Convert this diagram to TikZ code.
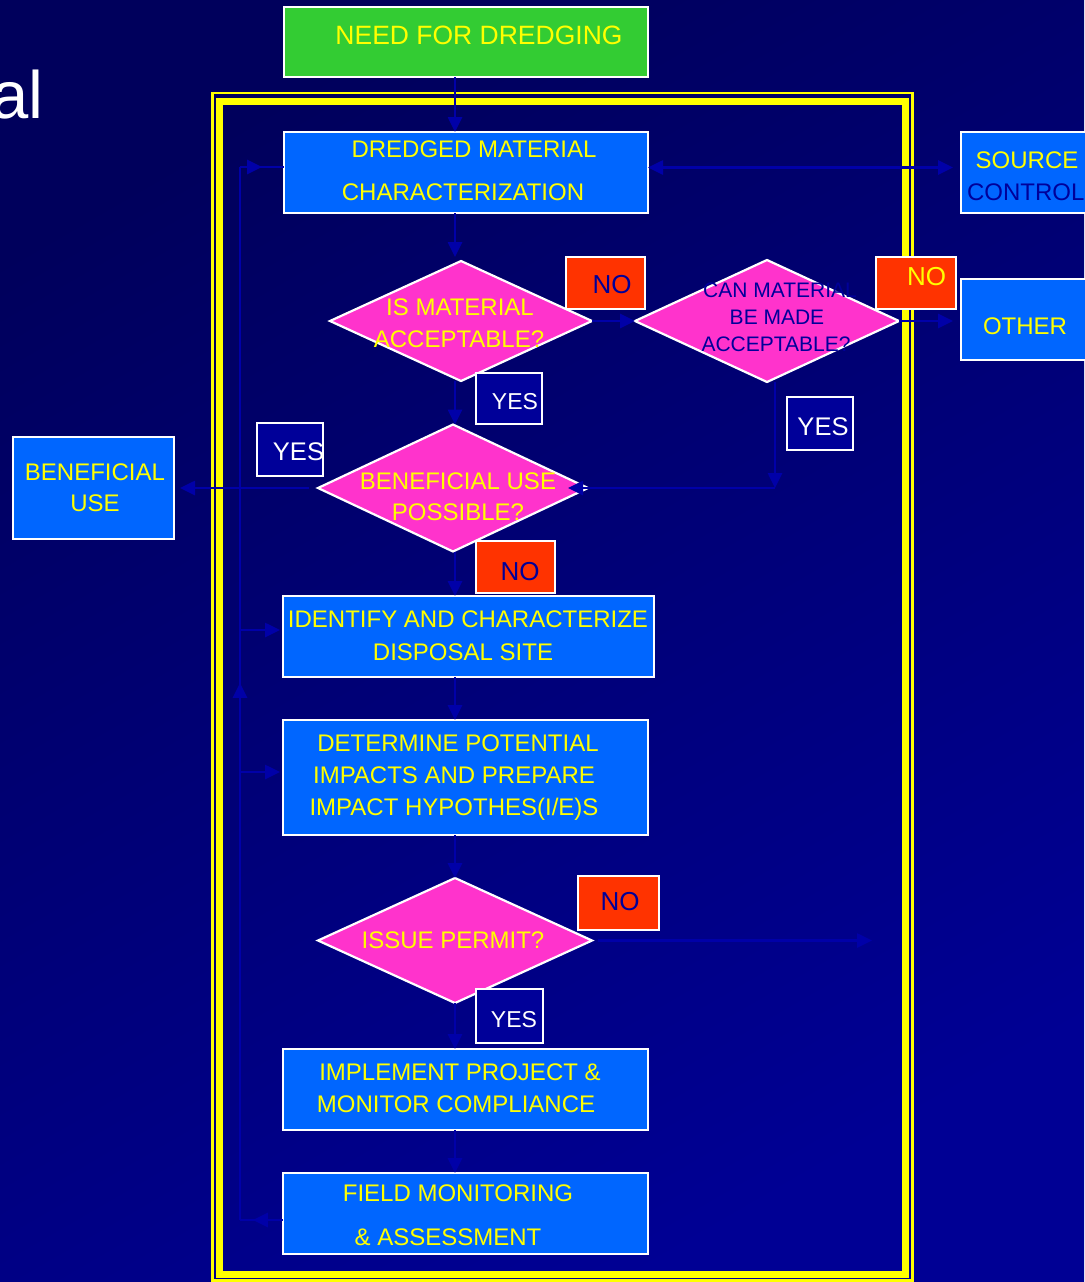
\documentclass[tikz,border=0pt]{standalone}
\usepackage{fontspec}
\setmainfont{Liberation Sans}
\usetikzlibrary{shapes.geometric,arrows.meta,decorations.markings,calc}
\definecolor{bgtop}{RGB}{0,0,92}
\definecolor{bgbot}{RGB}{0,0,148}
\definecolor{grn}{RGB}{51,204,51}
\definecolor{bbox}{RGB}{0,102,255}
\definecolor{pnk}{RGB}{255,51,204}
\definecolor{nored}{RGB}{255,51,0}
\definecolor{yesblue}{RGB}{0,0,153}
\definecolor{ylw}{RGB}{255,255,0}
\definecolor{dtext}{RGB}{0,0,153}
\definecolor{conn}{RGB}{0,0,168}
\begin{document}
\begin{tikzpicture}[x=1pt,y=-1pt,
  shp/.style={draw=white, line width=2.2pt, inner sep=0pt, outer sep=0pt},
  bx/.style={shp, rectangle, fill=bbox},
  nobox/.style={shp, rectangle, fill=nored},
  yesbox/.style={shp, rectangle, fill=yesblue},
  dia/.style={shp, diamond, fill=pnk, aspect=1},
  tA/.style={inner sep=0pt, outer sep=0pt, text depth=0pt, text=ylw, font=\fontsize{24}{24}\selectfont, text height=17.2pt},
  tB/.style={tA, font=\fontsize{21}{21}\selectfont, text height=15pt, text=dtext},
  tN/.style={tA, font=\fontsize{26}{26}\selectfont, text height=18.6pt},
  tY/.style={tA, font=\fontsize{23}{23}\selectfont, text height=16.5pt, text=white},
  ln/.style={draw=conn, color=conn, line width=2.6pt},
  arr/.style={ln, -{Triangle[length=15pt,width=14pt]}},
  midarr/.style={ln, postaction={decorate, decoration={markings, mark=at position #1 with {\arrow{Triangle[length=15pt,width=14pt]}}}}}
]
\shade[top color=bgtop, bottom color=bgbot, shading angle=30] (0,0) rectangle (1084,1282);
\useasboundingbox (0,0) rectangle (1084,1282);

% title fragment
\node[inner sep=0pt, anchor=base east, text=white, font=\fontsize{67}{67}\selectfont] (title) at (44,118) {al};

% frame
\draw[ylw, line width=2.5pt] (212.5,93) rectangle (912.5,1280.5);
\draw[ylw, line width=7pt] (219.5,101) rectangle (905.5,1274);

% boxes
\node[shp, rectangle, fill=grn, minimum width=364pt, minimum height=70pt] (need) at (466,42) {};
\node[bx, minimum width=364pt, minimum height=81pt] (dmc) at (466,172.5) {};
\node[bx, minimum width=140pt, minimum height=81pt] (source) at (1031,172.5) {};
\node[bx, minimum width=140pt, minimum height=81pt] (other) at (1031,319.5) {};
\node[dia, minimum width=262pt, minimum height=120pt] (d1) at (461,321) {};
\node[dia, minimum width=264pt, minimum height=122pt] (d2) at (767,321) {};
\node[dia, minimum width=270pt, minimum height=127pt] (d3) at (453,488) {};
\node[dia, minimum width=274pt, minimum height=125pt] (d4) at (455,940.5) {};
\node[nobox, minimum width=79pt, minimum height=52pt] (no1) at (605.5,283) {};
\node[nobox, minimum width=80pt, minimum height=52pt] (no2) at (916,283) {};
\node[yesbox, minimum width=66pt, minimum height=51pt] (yes1) at (509,398.5) {};
\node[yesbox, minimum width=66pt, minimum height=53pt] (yes2) at (820,423.5) {};
\node[yesbox, minimum width=66pt, minimum height=53pt] (yes3) at (290,449.5) {};
\node[nobox, minimum width=79pt, minimum height=52pt] (no3) at (515.5,567) {};
\node[bx, minimum width=161pt, minimum height=102pt] (ben) at (93.5,488) {};
\node[bx, minimum width=371pt, minimum height=81pt] (ident) at (468.5,636.5) {};
\node[bx, minimum width=365pt, minimum height=115pt] (determ) at (465.5,777.5) {};
\node[nobox, minimum width=81pt, minimum height=54pt] (no4) at (618.5,903) {};
\node[yesbox, minimum width=67pt, minimum height=54pt] (yes4) at (509.5,1016) {};
\node[bx, minimum width=365pt, minimum height=81pt] (impl) at (465.5,1089.5) {};
\node[bx, minimum width=365pt, minimum height=81pt] (field) at (465.5,1213.5) {};

% texts
\node[tA, font=\fontsize{26.5}{26.5}\selectfont, text height=19pt] (t1) at (479,35) {NEED FOR DREDGING};
\node[tA] (t2) at (474,148.5) {DREDGED MATERIAL};
\node[tA] (t3) at (463,192) {CHARACTERIZATION};
\node[tA] (t4) at (1027,160) {SOURCE};
\node[tA, text=dtext, anchor=west] (t5) at (967,192) {CONTROL};
\node[tA] (t6) at (1025,326) {OTHER};
\node[tA] (t7) at (460,307) {IS MATERIAL};
\node[tA] (t8) at (459,339) {ACCEPTABLE?};
\node[tB] (t9) at (780,290) {CAN MATERIAL};
\node[tB] (t10) at (777,317) {BE MADE};
\node[tB] (t11) at (776,344) {ACCEPTABLE?};
\node[tN, text=dtext] (t12) at (612,284.5) {NO};
\node[tN] (t13) at (926.5,276) {NO};
\node[tY] (t14) at (515,401) {YES};
\node[tY, font=\fontsize{25.5}{25.5}\selectfont, text height=18.3pt] (t15) at (823,426) {YES};
\node[tY, font=\fontsize{25.5}{25.5}\selectfont, text height=18.3pt] (t16) at (298.5,451) {YES};
\node[tA] (t17) at (458,481) {BENEFICIAL USE};
\node[tA] (t18) at (458,512) {POSSIBLE?};
\node[tA] (t19) at (95,471.5) {BENEFICIAL};
\node[tA] (t20) at (95,502.5) {USE};
\node[tN, text=dtext] (t21) at (520,571) {NO};
\node[tA] (t22) at (468,619) {IDENTIFY AND CHARACTERIZE};
\node[tA] (t23) at (463,652) {DISPOSAL SITE};
\node[tA] (t24) at (458,743) {DETERMINE POTENTIAL};
\node[tA] (t25) at (454,775) {IMPACTS AND PREPARE};
\node[tA] (t26) at (454,807) {IMPACT HYPOTHES(I/E)S};
\node[tA] (t27) at (453,940) {ISSUE PERMIT?};
\node[tN, text=dtext] (t28) at (620,901.5) {NO};
\node[tY] (t29) at (514,1019.5) {YES};
\node[tA] (t30) at (460,1072) {IMPLEMENT PROJECT \&};
\node[tA] (t31) at (456,1103.5) {MONITOR COMPLIANCE};
\node[tA] (t32) at (458,1193) {FIELD MONITORING};
\node[tA] (t33) at (448,1236.5) {\& ASSESSMENT};

% coordinates
\coordinate (sp) at (455,0);
\coordinate (r1) at (0,167.5);
\coordinate (cr) at (775,488);
\coordinate (d3in) at (568,488);
\coordinate (pend) at (872,940.5);
\coordinate (fbT) at (240,167);
\coordinate (fbB) at (240,1220);
\coordinate (fb1) at (240,630);
\coordinate (fb2) at (240,772);

% main spine
\draw[arr] (need.south -| sp) -- (dmc.north -| sp);
\draw[arr, shorten >=4pt] (dmc.south -| sp) -- (d1.north -| sp);
\draw[arr] (d1.south -| sp) -- (d3.north -| sp);
\draw[arr] (d3.south -| sp) -- (ident.north -| sp);
\draw[arr] (ident.south -| sp) -- (determ.north -| sp);
\draw[arr] (determ.south -| sp) -- (d4.north -| sp);
\draw[arr] (d4.south -| sp) -- (impl.north -| sp);
\draw[arr] (impl.south -| sp) -- (field.north -| sp);

% side branches
\draw[arr] (d1.east) -- (d2.west);
\draw[arr, shorten >=8pt] (d2.east) -- (d2.east -| other.west);
\draw[ln, {Triangle[length=15pt,width=14pt]}-{Triangle[length=15pt,width=14pt]}, shorten >=8pt] (dmc.east |- r1) -- (source.west |- r1);
\draw[arr] (d2.south -| cr) -- (cr);
\draw[arr] (cr) -- (d3in);
\draw[arr, shorten <=9pt, shorten >=6pt] (d3.west) -- (ben.east);
\draw[arr, shorten <=6pt] (d4.east) -- (pend);

% feedback loop
\draw[midarr=0.7] (field.west |- fbB) -- (fbB);
\draw[midarr=0.51] (fbB) -- (fbT);
\draw[midarr=0.5] (fbT) -- (dmc.west |- fbT);
\draw[arr, shorten >=3pt] (fb1) -- (ident.west |- fb1);
\draw[arr, shorten >=3pt] (fb2) -- (determ.west |- fb2);
\end{tikzpicture}
\end{document}
